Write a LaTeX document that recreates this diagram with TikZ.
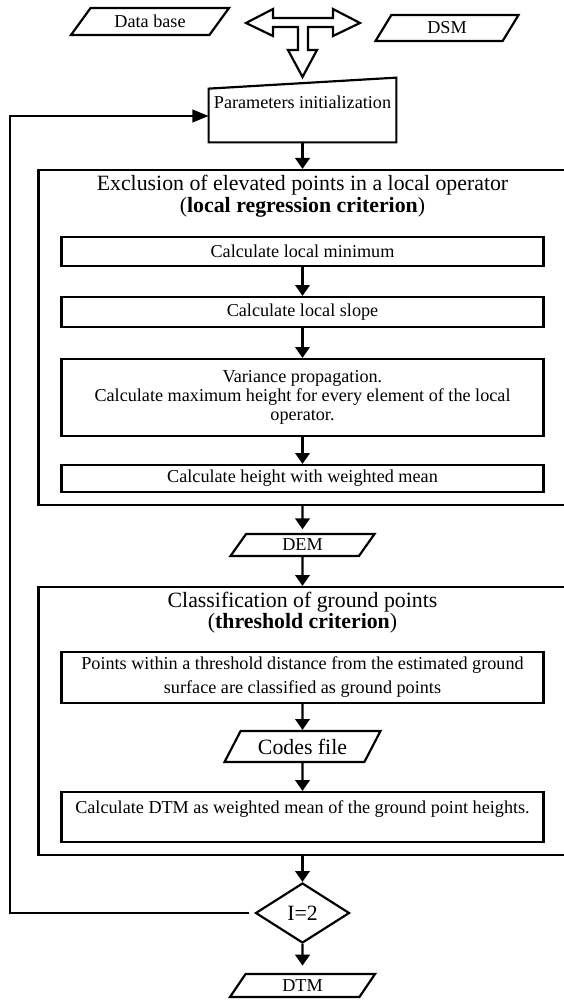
\documentclass[tikz,border=0pt]{standalone}
\usepackage{fontspec}
\setmainfont{Liberation Serif}
\usetikzlibrary{positioning, arrows.meta, shapes.geometric}
\newcommand{\pxu}{0.55pt}

\begin{document}
\begin{tikzpicture}[
    x=0.55pt, y=-0.55pt,
    every node/.style={font=\fontsize{10}{11}\selectfont},
    stepbox/.style={draw, line width=1.2pt, minimum width=482*\pxu,
                    inner sep=2pt, align=center},
    block/.style={draw, line width=1.2pt, minimum width=528*\pxu},
    hdr/.style={align=center, font=\fontsize{12}{12.2}\selectfont},
    iobox/.style={trapezium, trapezium left angle=45, trapezium right angle=135,
                  trapezium stretches body, draw, line width=1.2pt, inner sep=1pt},
    test/.style={diamond, draw, line width=1.2pt, inner sep=0pt,
                 minimum width=94*\pxu, minimum height=60*\pxu,
                 font=\fontsize{12}{13}\selectfont},
    flow/.style={line width=1.2pt, -{Triangle[length=6pt, width=8pt]}},
  ]
    \path[use as bounding box] (0,0) rectangle (564,1003);
    \clip (0,0) rectangle (564,1003);
    % inputs
    \node[iobox, minimum width=158*\pxu, minimum height=27*\pxu,
          trapezium left angle=40, trapezium right angle=140] (data) at (150,21.5) {Data base};
    \node[iobox, minimum width=143*\pxu, minimum height=26*\pxu] (dsm) at (447,28) {DSM};
    \draw[line width=1.2pt] (246,23) -- (273,9) -- (273,18) -- (333,18) -- (333,9) -- (360,23)
      -- (333,36) -- (333,27) -- (308,27) -- (308,50) -- (317,50) -- (302.5,77) -- (288,50)
      -- (298,50) -- (298,27) -- (273,27) -- (273,36) -- cycle;
    % parameters (manual input)
    \node[minimum width=187*\pxu, minimum height=64*\pxu, inner sep=2pt,
          text height=15pt, text depth=16.2pt] (init) at (302.5,110) {Parameters initialization};
    \draw[line width=1.2pt] (init.south west) -- ([yshift=-11*\pxu]init.north west)
      -- (init.north east) -- (init.south east) -- cycle;
    % local regression block
    \node[block, minimum height=335*\pxu] (blockA) at (302.5,337.5) {};
    \node[hdr] (hdrA) at (302.5,196)
      {Exclusion of elevated points in a local operator\\(\textbf{local regression criterion})};
    \node[stepbox, minimum height=29*\pxu] (minA) at (302.5,251.5) {Calculate local minimum};
    \node[stepbox, minimum height=30*\pxu] (slopeA) at (302.5,312) {Calculate local slope};
    \node[stepbox, minimum height=77*\pxu, font=\fontsize{10}{10.5}\selectfont] (varA) at (302.5,397.5)
      {Variance propagation.\\Calculate maximum height for every element of the local\\operator.};
    \node[stepbox, minimum height=27*\pxu] (meanA) at (302.5,478.5) {Calculate height with weighted mean};
    \node[iobox, minimum width=144*\pxu, minimum height=22*\pxu] (dem) at (302.5,545) {DEM};
    % threshold block
    \node[block, minimum height=268*\pxu] (blockB) at (302.5,721) {};
    \node[hdr, font=\fontsize{12}{11.6}\selectfont] (hdrB) at (302.5,612.5)
      {Classification of ground points\\(\textbf{threshold criterion})};
    \node[stepbox, minimum height=51*\pxu, font=\fontsize{10}{13.2}\selectfont] (ptsB) at (302.5,677.5)
      {Points within a threshold distance from the estimated ground\\surface are classified as ground points};
    \node[iobox, minimum width=156*\pxu, minimum height=31*\pxu, trapezium left angle=50,
          trapezium right angle=130, font=\fontsize{12}{13}\selectfont] (codes) at (302.5,746.5) {Codes file};
    \node[stepbox, minimum height=50*\pxu, text height=9.55pt, text depth=13.95pt] (dtmB) at (302.5,817)
      {Calculate DTM as weighted mean of the ground point heights.};
    % iteration test and output
    \node[test] (cond) at (302.5,913) {I=2};
    \node[iobox, minimum width=145*\pxu, minimum height=23*\pxu] (dtm) at (302.5,985.5) {DTM};
    % connectors
    \draw[flow] (init) -- (blockA);
    \draw[flow] (minA) -- (slopeA);
    \draw[flow] (slopeA) -- (varA);
    \draw[flow] (varA) -- (meanA);
    \draw[flow, shorten >=2pt] (blockA) -- (dem);
    \draw[flow] (dem) -- (blockB);
    \draw[flow] (ptsB) -- (codes);
    \draw[flow] (codes) -- (dtmB);
    \draw[flow] (blockB) -- (cond);
    \draw[flow, shorten >=4pt] (cond) -- (dtm);
    % loop back
    \coordinate (backbot) at (10,913);
    \coordinate (backtop) at (10,116);
    \draw[flow, -{Triangle[length=9pt, width=7pt]}, shorten <=3pt] (cond.west) -- (backbot) -- (backtop)
      -- (backtop -| init.west);
\end{tikzpicture}
\end{document}
